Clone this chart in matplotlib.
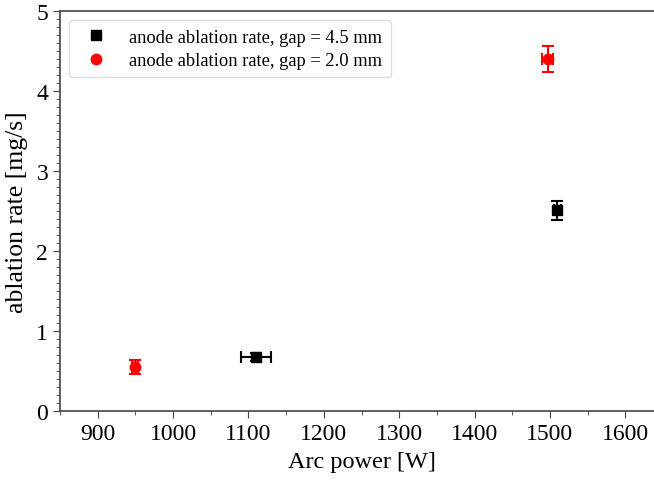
import matplotlib
matplotlib.use("Agg")
import matplotlib.pyplot as plt
from matplotlib.ticker import MultipleLocator

plt.rcParams['font.family'] = ['Liberation Serif', 'DejaVu Serif']

# gap = 4.5 mm
power_45 = [1110, 1510]
rate_45 = [0.67, 2.51]
xerr_45 = [20, 5]
yerr_45 = [0.05, 0.12]

# gap = 2.0 mm
power_20 = [950, 1497]
rate_20 = [0.55, 4.40]
xerr_20 = [4, 7]
yerr_20 = [0.09, 0.16]

fig = plt.figure(figsize=(6.54, 4.81), dpi=100)
ax = fig.add_axes([60 / 654, 1 - 412 / 481, (663 - 60) / 654, 400 / 481])

eb1 = ax.errorbar(power_45, rate_45, xerr=xerr_45, yerr=yerr_45, fmt='s', color='black',
                  markersize=7, capsize=4, elinewidth=1.5, capthick=1.5)
eb2 = ax.errorbar(power_20, rate_20, xerr=xerr_20, yerr=yerr_20, fmt='o', color='red',
                  markersize=7.5, capsize=4, elinewidth=1.5, capthick=1.5)

ax.set_xlim(850, 1650)
ax.set_ylim(0, 5)
ax.xaxis.set_major_locator(MultipleLocator(100))
ax.xaxis.set_minor_locator(MultipleLocator(50))
ax.yaxis.set_major_locator(MultipleLocator(1))
ax.yaxis.set_minor_locator(MultipleLocator(0.1))
ax.tick_params(axis='both', which='major', labelsize=17, length=5, color='#444444')
ax.tick_params(axis='both', which='minor', length=3, color='#444444')
for s in ax.spines.values():
    s.set_color('#444444')
    s.set_linewidth(1.2)

ax.set_xlabel('Arc power [W]', fontsize=17.5, labelpad=5)
ax.set_ylabel('ablation rate [mg/s]', fontsize=18.5, labelpad=6)

ax.legend([eb1[0], eb2[0]],
          ['anode ablation rate, gap = 4.5 mm', 'anode ablation rate, gap = 2.0 mm'],
          loc='upper left', fontsize=13.3, handletextpad=0.8, borderpad=0.45,
          labelspacing=0.35, framealpha=1, edgecolor='#dddddd',
          bbox_to_anchor=(0, 1), borderaxespad=0.5)

fig.savefig('out.png', dpi=100)
